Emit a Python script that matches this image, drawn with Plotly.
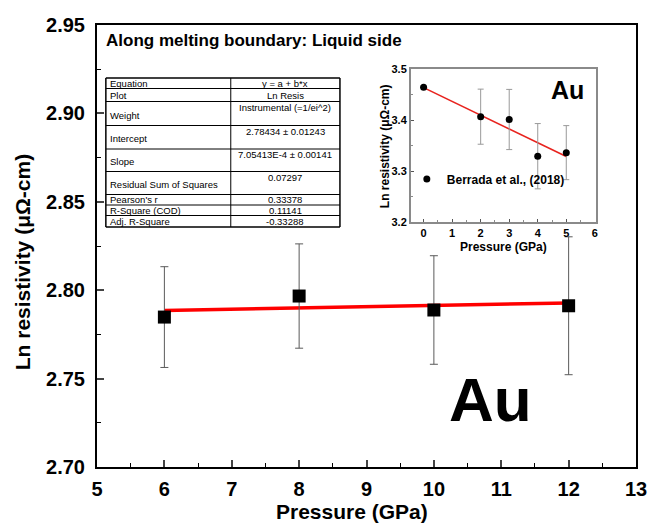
import plotly.graph_objects as go

# ---------------- data ----------------
main_pressure = [6, 8, 10, 12]
main_lnres = [2.7848, 2.7967, 2.7888, 2.7912]
main_err = [0.0285, 0.0295, 0.0307, 0.039]
main_fit_intercept = 2.78434
main_fit_slope = 7.05413e-4
main_fit_x = [6, 12]

inset_pressure = [0, 2, 3, 4, 5]
inset_lnres = [3.464, 3.4065, 3.401, 3.329, 3.336]
inset_err = [0.0, 0.054, 0.059, 0.064, 0.053]
inset_fit_intercept = 3.4635
inset_fit_slope = -0.027
inset_fit_x = [0, 5]

table_labels = ["Equation", "Plot", "Weight", "Intercept", "Slope",
                "Residual Sum of Squares", "Pearson's r", "R-Square (COD)", "Adj. R-Square"]
table_values = ["y = a + b*x", "Ln Resis", "Instrumental (=1/ei^2)", "2.78434 \u00b1 0.01243",
                "7.05413E-4 \u00b1 0.00141", "0.07297", "0.33378", "0.11141", "-0.33288"]

main_xticks = [5, 6, 7, 8, 9, 10, 11, 12, 13]
main_yticks = [2.70, 2.75, 2.80, 2.85, 2.90, 2.95]
inset_xticks = [0, 1, 2, 3, 4, 5, 6]
inset_yticks = [3.2, 3.3, 3.4, 3.5]

# ---------------- layout geometry ----------------
W, H = 659, 524
L, R, T, B = 97, 645, 25, 467


def px(x):
    return (x - L) / (R - L)


def py(y):
    return (B - y) / (B - T)


FONT = "Liberation Sans, Arial, sans-serif"
BOLD = dict(family=FONT, color="black", weight="bold")

fig = go.Figure()

# main fit line
fig.add_trace(go.Scatter(
    x=main_fit_x, y=[main_fit_intercept + main_fit_slope * v for v in main_fit_x],
    mode="lines", line=dict(color="#ff0000", width=3.5), showlegend=False,
    xaxis="x", yaxis="y"))
# main data
fig.add_trace(go.Scatter(
    x=main_pressure, y=main_lnres, mode="markers",
    marker=dict(symbol="square", size=13, color="black"),
    error_y=dict(type="data", array=main_err, color="#5a5a5a", thickness=1, width=4),
    showlegend=False, xaxis="x", yaxis="y"))

# inset fit line
fig.add_trace(go.Scatter(
    x=inset_fit_x, y=[inset_fit_intercept + inset_fit_slope * v for v in inset_fit_x],
    mode="lines", line=dict(color="#e8231e", width=1.6), showlegend=False,
    xaxis="x2", yaxis="y2"))
# inset data
fig.add_trace(go.Scatter(
    x=inset_pressure, y=inset_lnres, mode="markers", name="<b>Berrada et al., (2018)</b>",
    marker=dict(symbol="circle", size=7, color="black"),
    error_y=dict(type="data", array=inset_err, color="#999999", thickness=1, width=3),
    showlegend=True, xaxis="x2", yaxis="y2"))

shapes = []
annotations = []

# ---------------- table ----------------
tl, tm, tr = 106, 233, 344
row_edges = [78, 88.5, 101.5, 125.5, 149, 171.5, 194.5, 205, 215.5, 227]
top_aligned = {2, 3, 4, 5}
for i, yv in enumerate(row_edges):
    w = 1.5 if i in (0, len(row_edges) - 1) else 1
    shapes.append(dict(type="line", xref="paper", yref="paper",
                       x0=px(tl), x1=px(tr), y0=py(yv), y1=py(yv),
                       line=dict(color="black", width=w)))
for xv, w in ((tl, 1.5), (tm, 1), (tr, 1.5)):
    shapes.append(dict(type="line", xref="paper", yref="paper",
                       x0=px(xv), x1=px(xv), y0=py(row_edges[0]), y1=py(row_edges[-1]),
                       line=dict(color="black", width=w)))
for i, (lab, val) in enumerate(zip(table_labels, table_values)):
    y0, y1 = row_edges[i], row_edges[i + 1]
    yc = (y0 + y1) / 2 + (1.5 if i in top_aligned else 0)
    annotations.append(dict(x=px(tl + 2), y=py(yc), xref="paper", yref="paper",
                            text=lab, showarrow=False, xanchor="left", yanchor="middle",
                            font=dict(family=FONT, size=9.5, color="black")))
    yv = y0 + 6 if i in top_aligned else (y0 + y1) / 2
    annotations.append(dict(x=px((tm + tr) / 2), y=py(yv), xref="paper", yref="paper",
                            text=val, showarrow=False, xanchor="center", yanchor="middle",
                            font=dict(family=FONT, size=9.5, color="black")))

# title inside plot
annotations.append(dict(x=px(104), y=py(41), xref="paper", yref="paper",
                        text="<b>Along melting boundary: Liquid side</b>", showarrow=False,
                        xanchor="left", yanchor="middle",
                        font=dict(family=FONT, size=17, color="black")))
# big Au
annotations.append(dict(x=px(497), y=py(399), xref="paper", yref="paper",
                        text="<b>Au</b>", showarrow=False, xanchor="center", yanchor="middle",
                        font=dict(family=FONT, size=62, color="black")))
# inset Au
annotations.append(dict(x=px(575), y=py(90), xref="paper", yref="paper",
                        text="<b>Au</b>", showarrow=False, xanchor="center", yanchor="middle",
                        font=dict(family=FONT, size=25, color="black")))
# main axis titles
annotations.append(dict(x=px(356), y=py(511), xref="paper", yref="paper",
                        text="<b>Pressure (GPa)</b>", showarrow=False, xanchor="center",
                        yanchor="middle", font=dict(family=FONT, size=21, color="black")))
annotations.append(dict(x=px(21), y=py(262), xref="paper", yref="paper",
                        text="<b>Ln resistivity (\u03bc\u03a9-cm)</b>", showarrow=False,
                        textangle=-90, xanchor="center", yanchor="middle",
                        font=dict(family=FONT, size=21, color="black")))
# inset axis titles
annotations.append(dict(x=px(510), y=py(247), xref="paper", yref="paper",
                        text="<b>Pressure (GPa)</b>", showarrow=False, xanchor="center",
                        yanchor="middle", font=dict(family=FONT, size=12, color="black")))
annotations.append(dict(x=px(390), y=py(146), xref="paper", yref="paper",
                        text="<b>Ln resistivity (\u03bc\u03a9-cm)</b>", showarrow=False,
                        textangle=-90, xanchor="center", yanchor="middle",
                        font=dict(family=FONT, size=12, color="black")))

ix0, ix1, iy0, iy1 = 416, 604, 69, 222

fig.update_layout(
    width=W, height=H,
    margin=dict(l=L, r=W - R, t=T, b=H - B),
    paper_bgcolor="white", plot_bgcolor="white",
    font=dict(family=FONT, color="black"),
    xaxis=dict(range=[5, 13], tickvals=main_xticks, ticks="inside", ticklen=7, tickwidth=1.5,
               showline=True, linecolor="black", linewidth=2, mirror=True, showgrid=False,
               zeroline=False, tickfont=dict(BOLD, size=20), ticklabelstandoff=3,
               minor=dict(dtick=0.5, ticks="inside", ticklen=4, tickwidth=1.2, tickcolor="black"),
               domain=[0, 1], anchor="y"),
    yaxis=dict(range=[2.70, 2.95], tickvals=main_yticks, tickformat=".2f", ticks="inside",
               ticklen=7, tickwidth=1.5, showline=True, linecolor="black", linewidth=2,
               mirror=True, showgrid=False, zeroline=False,
               tickfont=dict(BOLD, size=20), ticklabelstandoff=6,
               minor=dict(dtick=0.025, ticks="inside", ticklen=4, tickwidth=1.2, tickcolor="black"),
               domain=[0, 1], anchor="x"),
    xaxis2=dict(range=[-0.45, 6.03], tickvals=inset_xticks, ticks="inside", ticklen=3,
                showline=True, linecolor="#8a8a8a", linewidth=1.5, mirror=True, showgrid=False,
                zeroline=False, tickfont=dict(BOLD, size=11),
                minor=dict(dtick=0.5, ticks="inside", ticklen=2, tickcolor="#8a8a8a"),
                tickcolor="#555", domain=[px(ix0), px(ix1)], anchor="y2"),
    yaxis2=dict(range=[3.2, 3.5], tickvals=inset_yticks, tickformat=".1f", ticks="inside",
                ticklen=3, showline=True, linecolor="#8a8a8a", linewidth=1.5, mirror=True,
                showgrid=False, zeroline=False,
                tickfont=dict(BOLD, size=11),
                minor=dict(dtick=0.05, ticks="inside", ticklen=2, tickcolor="#8a8a8a"),
                tickcolor="#555", domain=[py(iy1), py(iy0)], anchor="x2"),
    legend=dict(x=px(412), y=py(179), xanchor="left", yanchor="middle",
                bgcolor="rgba(0,0,0,0)", borderwidth=0, itemwidth=30, itemsizing="trace",
                font=dict(family=FONT, size=12, color="black"), tracegroupgap=0),
    shapes=shapes,
    annotations=annotations,
)

fig.write_html("out.html")
